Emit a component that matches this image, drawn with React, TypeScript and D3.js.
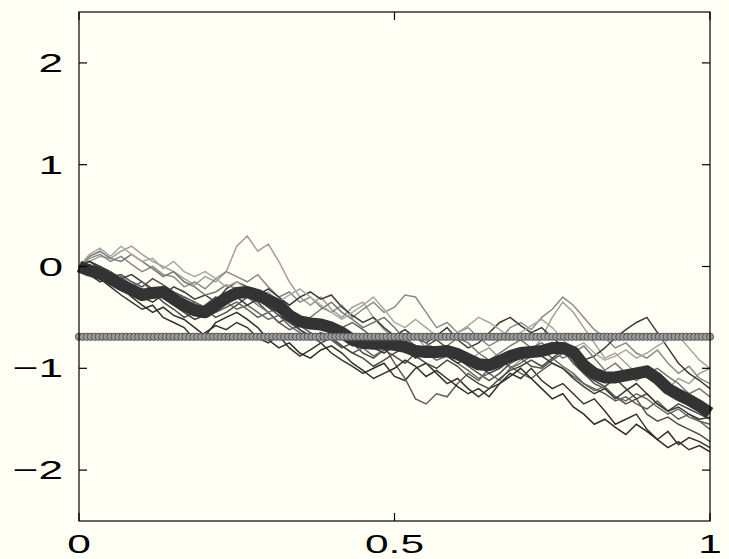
import React from "react";
import * as d3 from "d3";

// ---- data ----
const N_STEPS = 60; // samples at t = i/60
const meanPath = [
  0, -0.04, -0.07, -0.12, -0.18, -0.23, -0.28, -0.26, -0.25, -0.32,
  -0.38, -0.43, -0.45, -0.38, -0.31, -0.26, -0.25, -0.28, -0.33, -0.38,
  -0.48, -0.54, -0.56, -0.57, -0.6, -0.65, -0.72, -0.75, -0.76, -0.76,
  -0.77, -0.79, -0.83, -0.84, -0.84, -0.83, -0.86, -0.91, -0.96, -0.97,
  -0.93, -0.88, -0.85, -0.84, -0.83, -0.8, -0.8, -0.84, -0.97, -1.05,
  -1.09, -1.09, -1.07, -1.05, -1.03, -1.1, -1.2, -1.26, -1.31, -1.37, -1.44,
];

const path1 = [
  0, 0.05, 0.1, 0.08, 0.15, 0.2, 0.12, 0.05, 0.0, -0.05,
  -0.12, -0.18, -0.1, -0.15, -0.05, 0.2, 0.3, 0.15, 0.22, 0.05,
  -0.15, -0.3, -0.38, -0.3, -0.42, -0.5, -0.4, -0.35, -0.5, -0.62,
  -0.7, -0.75, -0.68, -0.8, -0.85, -0.78, -0.9, -0.95, -0.85, -0.8,
  -0.9, -1.0, -0.92, -0.85, -0.7, -0.5, -0.35, -0.45, -0.6, -0.75,
  -0.9, -0.85, -0.95, -1.05, -0.98, -1.1, -1.2, -1.1, -1.15, -1.05, -1.0,
];
const path2 = [
  0, 0.08, 0.12, 0.05, 0.1, 0.02, -0.05, 0.0, -0.08, -0.1,
  -0.2, -0.15, -0.22, -0.12, -0.05, -0.1, -0.15, -0.08, -0.2, -0.3,
  -0.25, -0.35, -0.3, -0.4, -0.45, -0.38, -0.5, -0.42, -0.35, -0.45,
  -0.4, -0.28, -0.3, -0.45, -0.6, -0.55, -0.65, -0.6, -0.7, -0.78,
  -0.72, -0.6, -0.55, -0.62, -0.5, -0.42, -0.3, -0.38, -0.5, -0.62,
  -0.7, -0.8, -0.75, -0.85, -0.9, -0.82, -0.95, -1.05, -0.98, -1.1, -1.15,
];
const path3 = [
  0, -0.05, -0.12, -0.2, -0.28, -0.35, -0.42, -0.38, -0.5, -0.55,
  -0.6, -0.72, -0.65, -0.58, -0.62, -0.55, -0.6, -0.7, -0.75, -0.68,
  -0.8, -0.88, -0.82, -0.75, -0.85, -0.92, -0.98, -1.05, -1.0, -0.95,
  -1.08, -1.12, -1.0, -0.95, -1.05, -1.15, -1.1, -1.2, -1.28, -1.2,
  -1.15, -1.05, -1.1, -1.0, -1.12, -1.2, -1.15, -1.25, -1.35, -1.3,
  -1.42, -1.55, -1.5, -1.45, -1.6, -1.7, -1.62, -1.75, -1.68, -1.72, -1.78,
];
const path4 = [
  0, 0.02, -0.05, -0.1, -0.08, -0.15, -0.2, -0.12, -0.18, -0.25,
  -0.3, -0.35, -0.42, -0.5, -0.45, -0.38, -0.3, -0.35, -0.45, -0.55,
  -0.5, -0.62, -0.7, -0.65, -0.72, -0.8, -0.75, -0.85, -0.9, -0.82,
  -0.88, -0.95, -0.85, -0.78, -0.72, -0.8, -0.9, -0.98, -1.05, -1.12,
  -1.05, -0.95, -0.9, -0.98, -1.0, -0.92, -0.85, -0.9, -1.05, -1.15,
  -1.2, -1.28, -1.35, -1.3, -1.45, -1.52, -1.48, -1.55, -1.6, -1.65, -1.72,
];
const path5 = [
  0, 0.05, 0.0, -0.05, -0.12, -0.08, -0.15, -0.22, -0.28, -0.2,
  -0.25, -0.32, -0.28, -0.35, -0.22, -0.15, -0.2, -0.28, -0.22, -0.3,
  -0.38, -0.3, -0.25, -0.32, -0.28, -0.4, -0.48, -0.55, -0.5, -0.6,
  -0.68, -0.62, -0.7, -0.75, -0.68, -0.6, -0.72, -0.8, -0.75, -0.65,
  -0.55, -0.5, -0.58, -0.65, -0.6, -0.7, -0.78, -0.85, -0.92, -0.88,
  -0.8, -0.7, -0.62, -0.55, -0.5, -0.65, -0.8, -0.95, -1.05, -1.12, -1.2,
];
const path6 = [
  0, -0.03, -0.08, -0.15, -0.1, -0.18, -0.25, -0.3, -0.22, -0.28,
  -0.35, -0.4, -0.5, -0.45, -0.4, -0.35, -0.42, -0.5, -0.45, -0.55,
  -0.62, -0.58, -0.65, -0.72, -0.68, -0.6, -0.55, -0.62, -0.7, -0.78,
  -0.95, -1.1, -1.3, -1.35, -1.25, -1.28, -1.15, -1.05, -1.12, -1.0,
  -0.92, -0.98, -1.05, -1.1, -1.02, -0.95, -1.0, -1.08, -1.15, -1.2,
  -1.25, -1.32, -1.28, -1.35, -1.4, -1.32, -1.42, -1.5, -1.45, -1.52, -1.55,
];
const path7 = [
  0, 0.1, 0.15, 0.08, 0.05, 0.12, 0.05, -0.02, -0.1, -0.05,
  -0.15, -0.2, -0.28, -0.25, -0.18, -0.22, -0.3, -0.38, -0.45, -0.4,
  -0.48, -0.55, -0.5, -0.42, -0.35, -0.45, -0.52, -0.6, -0.55, -0.5,
  -0.6, -0.72, -0.68, -0.75, -0.82, -0.78, -0.7, -0.75, -0.85, -0.92,
  -0.85, -0.78, -0.72, -0.8, -0.75, -0.82, -0.9, -0.85, -0.78, -0.9,
  -1.02, -0.95, -1.05, -1.12, -1.05, -1.0, -1.08, -1.15, -1.25, -1.2, -1.28,
];
const path8 = [
  0, -0.08, -0.15, -0.1, -0.2, -0.3, -0.38, -0.45, -0.4, -0.48,
  -0.52, -0.6, -0.68, -0.55, -0.5, -0.45, -0.52, -0.6, -0.72, -0.8,
  -0.75, -0.85, -0.9, -0.82, -0.78, -0.85, -0.95, -1.02, -1.1, -1.05,
  -1.0, -0.92, -0.98, -1.08, -1.02, -1.1, -1.18, -1.25, -1.2, -1.28,
  -1.15, -1.08, -1.0, -1.1, -1.2, -1.3, -1.25, -1.38, -1.45, -1.55,
  -1.5, -1.58, -1.65, -1.55, -1.62, -1.7, -1.78, -1.72, -1.8, -1.76, -1.82,
];
const path9 = [
  0, 0.0, -0.1, -0.05, -0.15, -0.2, -0.15, -0.25, -0.3, -0.38,
  -0.42, -0.35, -0.4, -0.3, -0.35, -0.42, -0.38, -0.45, -0.52, -0.48,
  -0.58, -0.65, -0.72, -0.65, -0.7, -0.78, -0.85, -0.8, -0.88, -0.82,
  -0.75, -0.7, -0.78, -0.85, -0.92, -0.88, -0.95, -1.02, -1.1, -1.05,
  -1.12, -1.0, -0.95, -0.88, -0.82, -0.9, -0.98, -1.05, -1.15, -1.22,
  -1.18, -1.28, -1.32, -1.25, -1.3, -1.38, -1.45, -1.4, -1.48, -1.52, -1.6,
];
const path10 = [
  0, 0.12, 0.18, 0.1, 0.2, 0.12, 0.05, 0.08, -0.02, 0.05,
  -0.05, -0.1, -0.05, -0.12, -0.2, -0.15, -0.22, -0.3, -0.25, -0.35,
  -0.28, -0.22, -0.3, -0.38, -0.45, -0.52, -0.45, -0.38, -0.3, -0.42,
  -0.55, -0.6, -0.52, -0.6, -0.68, -0.72, -0.65, -0.58, -0.5, -0.55,
  -0.62, -0.7, -0.65, -0.58, -0.52, -0.6, -0.72, -0.8, -0.75, -0.85,
  -0.92, -0.88, -0.82, -0.9, -0.85, -0.78, -0.72, -0.68, -0.8, -0.92, -1.0,
];
const path11 = [
  0, -0.05, 0.0, -0.08, -0.15, -0.22, -0.3, -0.25, -0.35, -0.42,
  -0.5, -0.45, -0.38, -0.3, -0.35, -0.3, -0.25, -0.32, -0.4, -0.48,
  -0.55, -0.62, -0.68, -0.75, -0.7, -0.78, -0.85, -0.9, -0.98, -0.92,
  -0.85, -0.8, -0.88, -0.95, -1.0, -0.92, -0.98, -1.08, -1.15, -1.2,
  -1.1, -1.02, -0.98, -0.92, -0.98, -0.9, -0.82, -0.95, -1.05, -1.12,
  -1.18, -1.1, -1.2, -1.3, -1.25, -1.35, -1.42, -1.35, -1.4, -1.45, -1.5,
];
const path12 = [
  0, 0.05, -0.02, -0.1, -0.2, -0.25, -0.3, -0.35, -0.28, -0.38,
  -0.45, -0.52, -0.48, -0.4, -0.35, -0.3, -0.38, -0.32, -0.4, -0.45,
  -0.52, -0.5, -0.6, -0.55, -0.62, -0.7, -0.78, -0.72, -0.8, -0.85,
  -0.78, -0.82, -0.9, -0.85, -0.8, -0.88, -0.95, -0.9, -0.98, -1.05,
  -1.0, -0.92, -0.85, -0.8, -0.88, -0.95, -1.0, -1.1, -1.18, -1.25,
  -1.2, -1.3, -1.22, -1.15, -1.25, -1.35, -1.42, -1.38, -1.45, -1.5, -1.48,
];

const samplePaths = [path1, path2, path3, path4, path5, path6, path7, path8, path9, path10, path11, path12];
const pathColors = ["#a0a0a0", "#8a8a8a", "#333333", "#505050", "#3c3c3c", "#5e5e5e", "#777777", "#2e2e2e", "#686868", "#a8a8a8", "#4a4a4a", "#3a3a3a"];

const markerLevel = -0.69;
const MARKER_STEPS = 160;

const xTicks = [0, 0.5, 1];
const xTickLabels = ["0", "0.5", "1"];
const yTicks = [-2, -1, 0, 1, 2];
const yTickLabels = ["\u22122", "\u22121", "0", "1", "2"];

// ---- layout ----
const W = 729;
const H = 559;
const L = 79, R = 710, T = 12, B = 521;

export default function App() {
  const x = d3.scaleLinear().domain([0, 1]).range([L, R]);
  const y = d3.scaleLinear().domain([-2.5, 2.5]).range([B, T]);
  const line = d3
    .line<number>()
    .x((_, i) => x(i / N_STEPS))
    .y((d) => y(d));
  const markerTs = d3.range(MARKER_STEPS + 1).map((i) => i / MARKER_STEPS);
  const font = "'Liberation Sans', Arial, Helvetica, sans-serif";
  const tickLen = 8;

  return (
    <svg
      width={W}
      height={H}
      style={{ position: "absolute", left: 0, top: 0, display: "block" }}
    >
      <rect x={0} y={0} width={W} height={H} fill="#fffff6" />
      <g>
        {samplePaths.map((p, k) => (
          <path key={k} d={line(p) || ""} fill="none" stroke={pathColors[k]} strokeWidth={1.5} />
        ))}
      </g>
      <path d={line(meanPath) || ""} fill="none" stroke="#333333" strokeWidth={12} strokeLinejoin="round" />
      <g>
        {markerTs.map((t, i) => (
          <circle key={i} cx={x(t)} cy={y(markerLevel)} r={3.6} fill="#9a9a9a" stroke="#555555" strokeWidth={1} />
        ))}
      </g>
      {/* axes box */}
      <rect x={L} y={T} width={R - L} height={B - T} fill="none" stroke="#000" strokeWidth={1.2} />
      {yTicks.map((v) => (
        <g key={"y" + v}>
          <line x1={L} x2={L + tickLen} y1={y(v)} y2={y(v)} stroke="#000" strokeWidth={1.2} />
          <line x1={R} x2={R - tickLen} y1={y(v)} y2={y(v)} stroke="#000" strokeWidth={1.2} />
        </g>
      ))}
      {xTicks.map((v) => (
        <g key={"x" + v}>
          <line x1={x(v)} x2={x(v)} y1={B} y2={B - tickLen} stroke="#000" strokeWidth={1.2} />
          <line x1={x(v)} x2={x(v)} y1={T} y2={T + tickLen} stroke="#000" strokeWidth={1.2} />
        </g>
      ))}
      {yTicks.map((v, i) => (
        <text
          key={"yl" + v}
          transform={`translate(${L - 16},${y(v) + 9}) scale(1.7,1)`}
          textAnchor="end"
          fontFamily={font}
          fontSize={26}
          fill="#000"
        >
          {yTickLabels[i]}
        </text>
      ))}
      {xTicks.map((v, i) => (
        <text
          key={"xl" + v}
          transform={`translate(${x(v)},${B + 32}) scale(1.7,1)`}
          textAnchor="middle"
          fontFamily={font}
          fontSize={25}
          fill="#000"
        >
          {xTickLabels[i]}
        </text>
      ))}
    </svg>
  );
}
